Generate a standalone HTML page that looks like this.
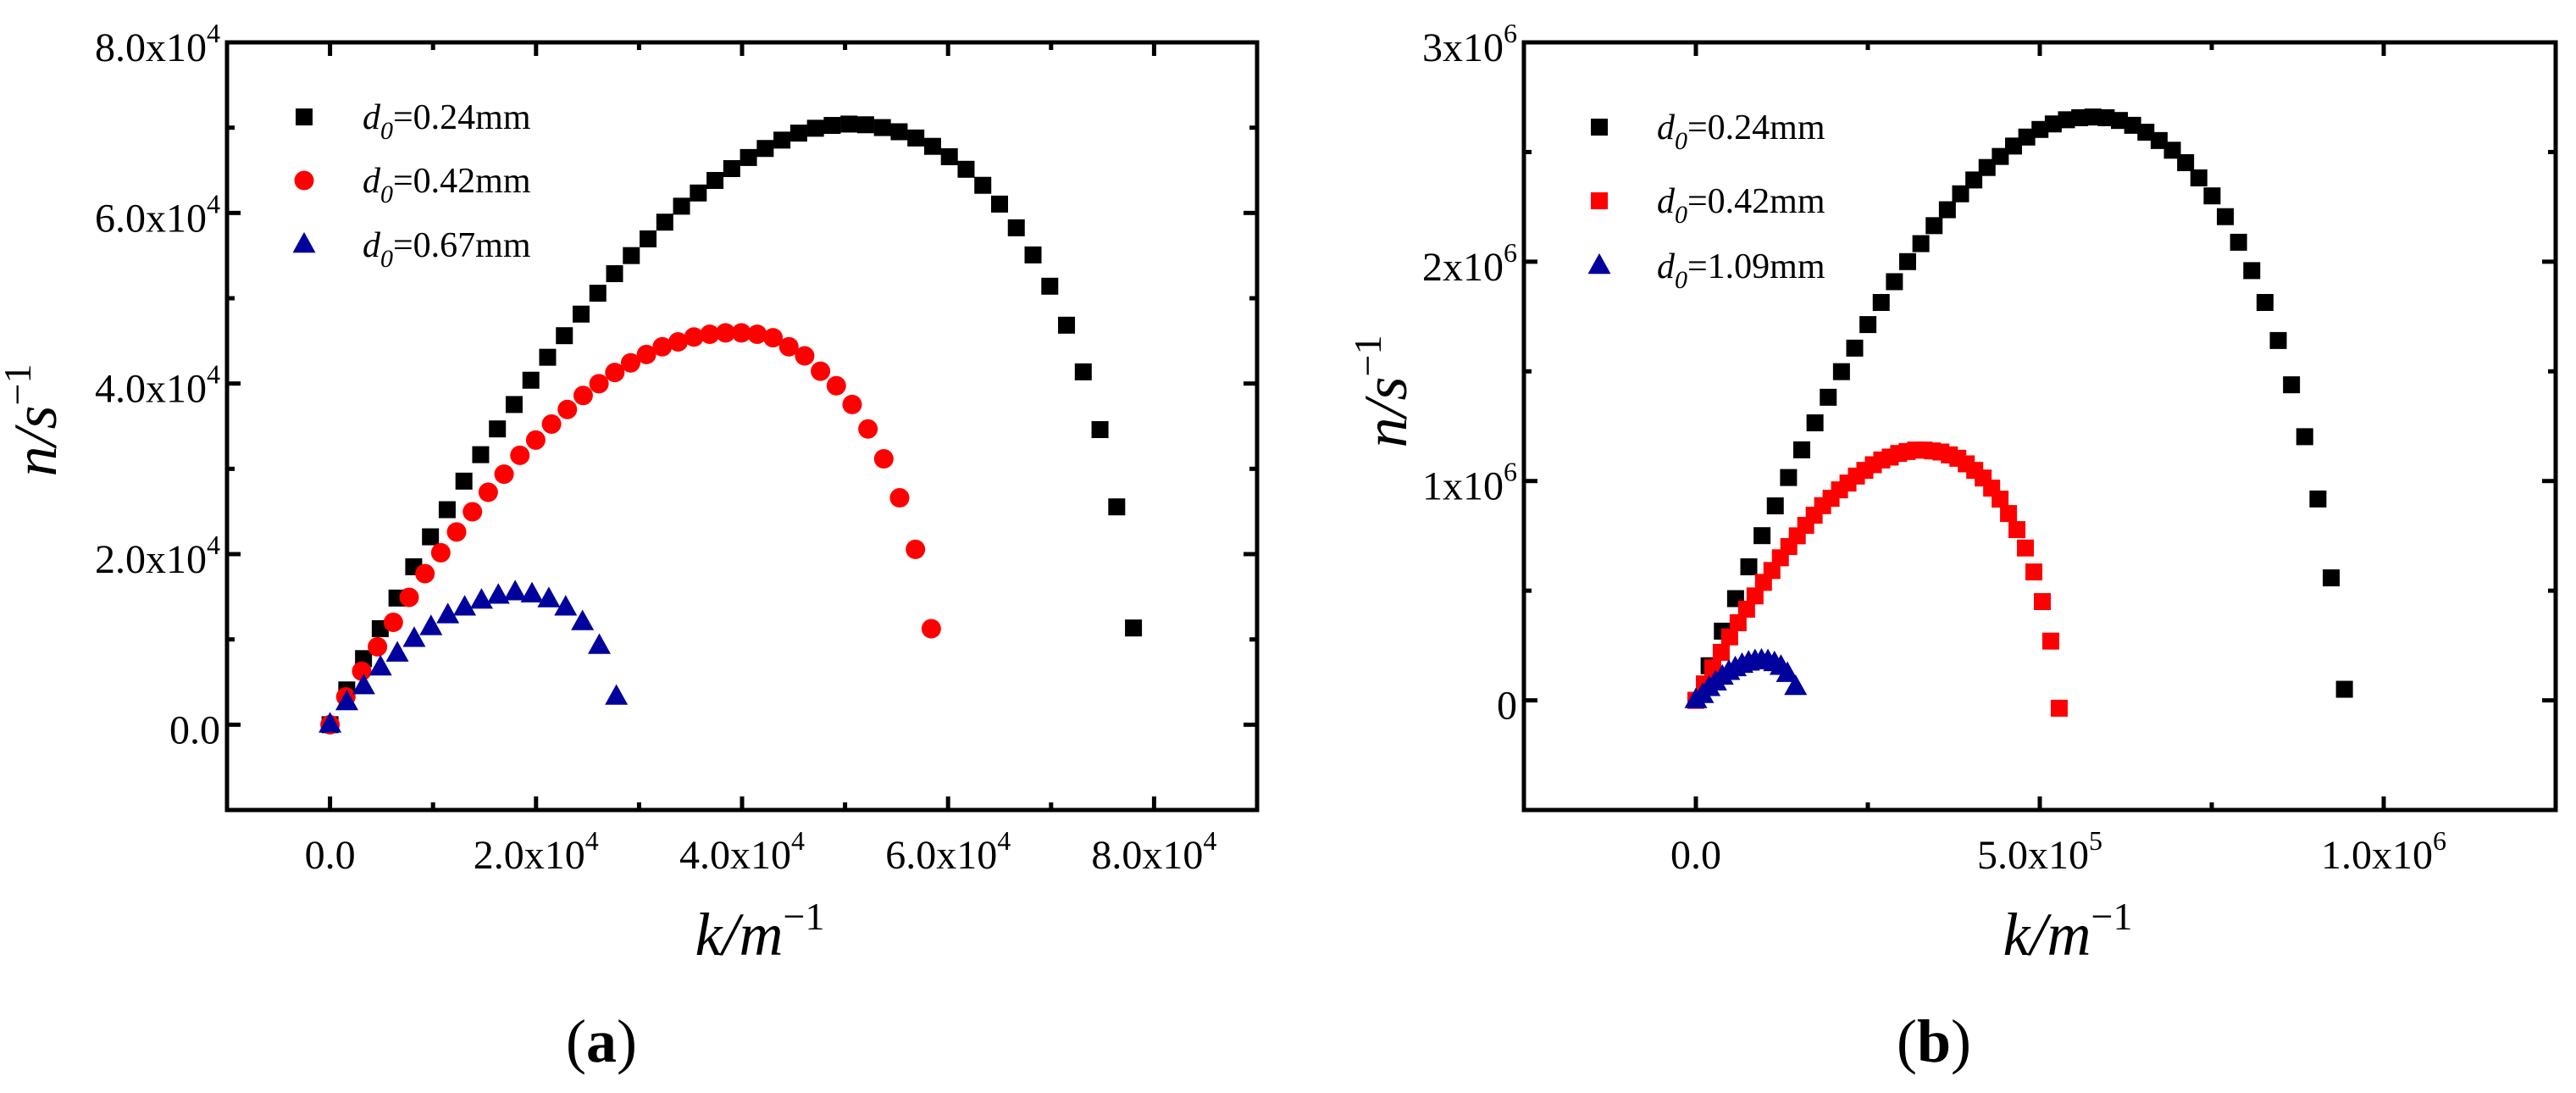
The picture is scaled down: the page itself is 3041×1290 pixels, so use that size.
<!DOCTYPE html>
<html><head><meta charset="utf-8"><style>
html,body{margin:0;padding:0;background:#fff;}
svg{display:block;}
svg text{font-family:"Liberation Serif","Times New Roman",serif;}
</style></head><body>
<svg id="fig" width="3041" height="1290" viewBox="0 0 3041 1290" xmlns="http://www.w3.org/2000/svg" font-family="'Liberation Serif', serif"></svg>
<script>
// ---------- Panel (a) data ----------
const aBlackX=[0,1625,3250,4875,6500,8125,9750,11375,13000,14625,16250,17875,19500,21125,22750,24375,26000,27625,29250,30875,32500,34125,35750,37375,39000,40625,42250,43875,45500,47125,48750,50375,52000,53625,55250,56875,58500,60125,61750,63375,65000,66625,68250,69875,71500,73125,74750,76375,78000];
const aBlackY=[0,4080,7750,11260,14850,18520,22030,25210,28560,31660,34680,37540,40390,43080,45610,48140,50590,52880,55000,56960,58920,60790,62340,63810,65200,66500,67560,68540,69360,69930,70260,70420,70340,70010,69520,68790,67810,66590,65120,63240,61040,58260,55080,51410,46840,41370,34600,25540,11340];
const aRedX=[0,1536,3072,4608,6144,7680,9216,10752,12288,13824,15360,16896,18432,19968,21504,23040,24576,26112,27648,29184,30720,32256,33792,35328,36864,38400,39936,41472,43008,44544,46080,47616,49152,50688,52224,53760,55296,56832,58370];
const aRedY=[0,3260,6280,9140,12000,14930,17710,20160,22600,24970,27250,29380,31580,33370,35250,36960,38600,39980,41290,42430,43410,44310,44880,45450,45780,45940,45940,45780,45370,44310,43250,41450,39740,37540,34680,31170,26600,20560,11260];
const aBlueX=[0,1634,3268,4902,6536,8170,9804,11438,13072,14706,16340,17974,19608,21242,22876,24510,26144,27800];
const aBlueY=[0,2610,4490,6690,8320,10040,11420,12810,13710,14520,15100,15500,15260,14690,13710,12000,9220,3260];
const aXTicks=[0,20000,40000,60000,80000];
const aXTickMant=["0.0","2.0x10","4.0x10","6.0x10","8.0x10"];
const aXTickExp=["","4","4","4","4"];
const aYTicks=[0,20000,40000,60000,80000];
const aYTickMant=["0.0","2.0x10","4.0x10","6.0x10","8.0x10"];
const aYTickExp=["","4","4","4","4"];
const aLegend=["0.24mm","0.42mm","0.67mm"];
// ---------- Panel (b) data ----------
const bBlackX=[0,19243,38486,57729,76972,96215,115458,134701,153944,173187,192430,211673,230916,250159,269402,288645,307888,327131,346374,365617,384860,404103,423346,442589,461832,481075,500318,519561,538804,558047,577290,596533,615776,635019,654262,673505,692748,711991,731234,750477,769720,788963,808206,827449,846692,865935,885178,904421,923664,942900];
const bBlackY=[0,157700,315500,463800,608900,750900,886600,1015900,1142100,1265200,1381900,1498600,1605900,1713200,1814100,1908800,2000300,2082300,2164300,2236900,2309500,2372600,2429400,2479800,2527200,2568200,2602900,2628100,2647100,2656500,2659700,2656500,2643900,2621800,2590300,2552400,2508200,2451400,2382000,2300000,2205300,2088600,1959300,1814100,1640600,1438700,1202100,918100,558400,50500];
const bRedX=[0,12285,24570,36855,49140,61425,73710,85995,98280,110565,122850,135135,147420,159705,171990,184275,196560,208845,221130,233415,245700,257985,270270,282555,294840,307125,319410,331695,343980,356265,368550,380835,393120,405405,417690,429975,442260,454545,466830,479115,491400,503685,515970,528255];
const bRedY=[0,74900,148200,218800,289400,353900,415600,476200,537900,592000,649900,701200,750200,797700,844000,887600,921100,959700,990600,1022600,1048500,1074300,1096000,1109100,1125700,1134500,1141100,1141100,1137200,1132200,1119100,1103700,1078200,1048500,1013700,967400,917300,851700,778400,694600,585400,450300,270100,-35900];
const bBlueX=[0,9800,19200,28700,38500,47900,57300,67100,76600,86000,95400,104800,114300,123700,133100,145000];
const bBlueY=[0,23200,55500,81000,106900,128900,145500,160900,171300,177500,180200,177500,168600,152000,119600,60000];
const bXTicks=[0,500000,1000000];
const bXTickMant=["0.0","5.0x10","1.0x10"];
const bXTickExp=["","5","6"];
const bYTicks=[0,1000000,2000000,3000000];
const bYTickMant=["0","1x10","2x10","3x10"];
const bYTickExp=["","6","6","6"];
const bLegend=["0.24mm","0.42mm","1.09mm"];

const NS="http://www.w3.org/2000/svg";
const svg=document.getElementById('fig');
function mk(tag,attrs,parent){const e=document.createElementNS(NS,tag);for(const k in attrs)e.setAttribute(k,attrs[k]);(parent||svg).appendChild(e);return e;}

function panel(cfg){
  const g=mk('g',{});
  
  
  const sx=v=>cfg.x0+(v-cfg.xmin)/(cfg.xmax-cfg.xmin)*(cfg.x1-cfg.x0);
  const sy=v=>cfg.y1-(v-cfg.ymin)/(cfg.ymax-cfg.ymin)*(cfg.y1-cfg.y0);
  const tg=mk('g',{stroke:'#000','stroke-width':5},g);
  
  
  for(let v=cfg.xmin+cfg.xminor;v<cfg.xmax-1e-6;v+=cfg.xminor){
    const x=sx(v);const major=Math.abs(v/cfg.xmajor-Math.round(v/cfg.xmajor))<1e-6;const L=major?16:9;
    mk('line',{x1:x,x2:x,y1:cfg.y1,y2:cfg.y1-L},tg);
    mk('line',{x1:x,x2:x,y1:cfg.y0,y2:cfg.y0+L},tg);
  }
  for(let v=cfg.ymin+cfg.yminor;v<cfg.ymax-1e-6;v+=cfg.yminor){
    const y=sy(v);const major=Math.abs(v/cfg.ymajor-Math.round(v/cfg.ymajor))<1e-6;const L=major?16:9;
    mk('line',{y1:y,y2:y,x1:cfg.x0,x2:cfg.x0+L},tg);
    mk('line',{y1:y,y2:y,x1:cfg.x1,x2:cfg.x1-L},tg);
  }
  const frame=mk('rect',{x:cfg.x0,y:cfg.y0,width:cfg.x1-cfg.x0,height:cfg.y1-cfg.y0,fill:'none',stroke:'#000','stroke-width':5},g);
  
  
  cfg.xt.forEach((v,i)=>{
    const t=mk('text',{x:sx(v),y:1025,'font-size':48,'text-anchor':'middle'},g);
    
    
    t.textContent=cfg.xm[i];
    if(cfg.xe[i]){const s=mk('tspan',{dy:-22,'font-size':32},t);s.textContent=cfg.xe[i];}
  });
  cfg.yt.forEach((v,i)=>{
    const t=mk('text',{x:cfg.x0-8,y:sy(v)+22,'font-size':48,'text-anchor':'end'},g);
    
    
    t.textContent=cfg.ym[i];
    if(cfg.ye[i]){const s=mk('tspan',{dy:-22,'font-size':32},t);s.textContent=cfg.ye[i];}
  });
  const xt=mk('text',{x:cfg.xtx,y:1127,'font-size':72,'text-anchor':'middle'},g);
  
  
  xt.innerHTML='<tspan font-style="italic">k/m</tspan><tspan font-size="46" dy="-30">−1</tspan>';
  const yt=mk('text',{x:0,y:0,'font-size':72,'text-anchor':'middle',transform:`translate(${cfg.ytx},${cfg.yty}) rotate(-90)`},g);
  
  
  yt.innerHTML='<tspan font-style="italic">n/s</tspan><tspan font-size="46" dy="-30">−1</tspan>';
  const pl=mk('text',{x:cfg.plx,y:1253,'font-size':72,'text-anchor':'middle'},g);
  
  
  pl.innerHTML='(<tspan font-weight="bold">'+cfg.letter+'</tspan>)';
  cfg.series.forEach(s=>{
    const sg=mk('g',{fill:s.color},g);
    
    
    s.xs.forEach((xv,i)=>drawMarker(sg,s.shape,sx(xv),sy(s.ys[i]),s.size));
  });
  const lg=mk('g',{},g);
  
  
  cfg.series.forEach((s,i)=>{
    const y=cfg.legY[i];
    const eg=mk('g',{fill:s.color},lg);
    
    
    drawMarker(eg,s.shape,cfg.legMX,y,s.size);
    const t=mk('text',{x:cfg.legTX,y:y+14,'font-size':42,fill:'#000'},lg);
    
    
    t.innerHTML='<tspan font-style="italic">d</tspan><tspan font-style="italic" font-size="30" dy="12">0</tspan><tspan dy="-12">='+cfg.leg[i]+'</tspan>';
  });
}
function drawMarker(g,shape,x,y,sz){
  if(shape==='sq'){mk('rect',{x:x-sz/2,y:y-sz/2,width:sz,height:sz},g);}
  else if(shape==='ci'){mk('circle',{cx:x,cy:y,r:sz/2},g);}
  else{const h=sz*0.9;mk('polygon',{points:`${x},${y-h*0.62} ${x-sz/2},${y+h*0.38} ${x+sz/2},${y+h*0.38}`},g);}
}
panel({name:'panel-a',letter:'a',x0:268,x1:1484,y0:50,y1:956,xmin:-10000,xmax:90000,ymin:-10000,ymax:80000,
  xminor:10000,xmajor:20000,yminor:10000,ymajor:20000,
  xt:aXTicks,xm:aXTickMant,xe:aXTickExp,yt:aYTicks,ym:aYTickMant,ye:aYTickExp,
  xtx:897,ytx:66,yty:496,plx:710,legY:[138,213,289],legMX:359,legTX:428,leg:aLegend,
  series:[{name:'series-d0-0.24mm',color:'#000000',shape:'sq',size:20,xs:aBlackX,ys:aBlackY},
          {name:'series-d0-0.42mm',color:'#ff0000',shape:'ci',size:23,xs:aRedX,ys:aRedY},
          {name:'series-d0-0.67mm',color:'#00009c',shape:'tr',size:27,xs:aBlueX,ys:aBlueY}]});
panel({name:'panel-b',letter:'b',x0:1799,x1:3017,y0:50,y1:956,xmin:-250000,xmax:1250000,ymin:-500000,ymax:3000000,
  xminor:250000,xmajor:500000,yminor:500000,ymajor:1000000,
  xt:bXTicks,xm:bXTickMant,xe:bXTickExp,yt:bYTicks,ym:bYTickMant,ye:bYTickExp,
  xtx:2441,ytx:1660,yty:462,plx:2283,legY:[150,237,314],legMX:1888,legTX:1956,leg:bLegend,
  series:[{name:'series-d0-0.24mm',color:'#000000',shape:'sq',size:20,xs:bBlackX,ys:bBlackY},
          {name:'series-d0-0.42mm',color:'#ff0000',shape:'sq',size:20,xs:bRedX,ys:bRedY},
          {name:'series-d0-1.09mm',color:'#00009c',shape:'tr',size:27,xs:bBlueX,ys:bBlueY}]});
</script>
</body></html>
